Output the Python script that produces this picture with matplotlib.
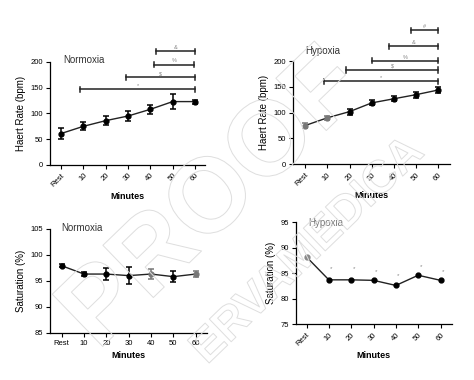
import numpy as np
import matplotlib
matplotlib.use('Agg')
import matplotlib.pyplot as plt
from matplotlib import patheffects

plt.rcParams['font.family'] = ['Liberation Sans', 'DejaVu Sans']

# ---- data ----
minutes = ['Rest', '10', '20', '30', '40', '50', '60']

hr_norm = [61, 75, 86, 95, 108, 123, 123]
hr_norm_err = [11, 8, 9, 10, 9, 15, 4]
hr_norm_col = ['k', 'k', 'k', 'k', 'k', 'k', 'k']

hr_hyp = [75, 90, 102, 119, 127, 135, 144]
hr_hyp_err = [5, 4, 6, 5, 5, 6, 5]
hr_hyp_col = ['#777777', '#777777', 'k', 'k', 'k', 'k', 'k']

sat_norm = [97.9, 96.3, 96.3, 96.0, 96.3, 95.8, 96.3]
sat_norm_err = [0.3, 0.4, 1.1, 1.6, 0.9, 1.1, 0.5]
sat_norm_col = ['k', 'k', 'k', 'k', '#777777', 'k', '#777777']

sat_hyp = [88.2, 83.7, 83.7, 83.6, 82.6, 84.6, 83.6]
sat_hyp_col = ['#888888', 'k', 'k', 'k', 'k', 'k', 'k']
sat_hyp_star = [None, 86.0, 86.0, 85.3, 84.5, 86.4, 85.4]

# significance brackets (start index, end index, height, symbol)
norm_br_start = [0.85, 2.9, 4.15, 4.25]
norm_br_end = [6.0, 6.0, 5.95, 6.0]
norm_br_y = [147, 170, 195, 221]
norm_br_lab = ['*', '$', '%', '&']

hyp_br_start = [0.85, 1.85, 3.0, 3.8, 4.75]
hyp_br_end = [6.0, 6.0, 6.0, 6.0, 6.0]
hyp_br_y = [161, 183, 201, 229, 260]
hyp_br_lab = ['*', '$', '%', '&', '#']

x = np.arange(len(minutes))

fig = plt.figure(figsize=(4.74, 3.8), dpi=100)

# faint watermark
wm = dict(color='none', fontweight='bold', ha='center', va='center',
          rotation=44, zorder=0,
          path_effects=[patheffects.withStroke(linewidth=0.7, foreground='#dedede')])
fig.text(0.45, 0.47, 'PROOF', fontsize=76, **wm)
fig.text(0.65, 0.34, 'ERVAMEDICA', fontsize=33, **wm)


def style_axes(ax, ylim, yticks, xlim, rotate=True):
    ax.set_facecolor('none')
    for s in ['top', 'right']:
        ax.spines[s].set_visible(False)
    for s in ['left', 'bottom']:
        ax.spines[s].set_linewidth(0.9)
    ax.set_ylim(*ylim)
    ax.set_yticks(yticks)
    ax.set_xlim(*xlim)
    ax.set_xticks(x)
    if rotate:
        ax.set_xticklabels(minutes, rotation=45, ha='right', rotation_mode='anchor')
    else:
        ax.set_xticklabels(minutes)
    ax.tick_params(length=3, width=0.8, labelsize=5.5, pad=2)
    ax.set_xlabel('Minutes', fontsize=6.5, fontweight='bold', labelpad=3)


def draw_series(ax, vals, errs, cols):
    ax.plot(x, vals, color='#222222', lw=1.0, zorder=2)
    for i in range(len(vals)):
        if errs is not None:
            ax.errorbar(x[i], vals[i], yerr=errs[i], color=cols[i], capsize=2.5,
                        elinewidth=1.1, capthick=1.1, zorder=3)
        ax.plot(x[i], vals[i], 'o', color=cols[i], ms=3.5, zorder=4)


def draw_brackets(ax, starts, ends, ys, labs, capheight):
    for s, e, y, lab in zip(starts, ends, ys, labs):
        ax.plot([s, e], [y, y], color='#222222', lw=1.1, clip_on=False)
        ax.plot([s, s], [y - capheight, y + capheight], color='#222222', lw=1.1, clip_on=False)
        ax.plot([e, e], [y - capheight, y + capheight], color='#222222', lw=1.1, clip_on=False)
        ax.text((s + e) / 2, y + 7, lab, fontsize=4, color='#888888',
                ha='center', va='center', clip_on=False)


# heart rate, normoxia
ax1 = fig.add_axes([0.1055, 0.566, 0.327, 0.271])
draw_series(ax1, hr_norm, hr_norm_err, hr_norm_col)
draw_brackets(ax1, norm_br_start, norm_br_end, norm_br_y, norm_br_lab, 5)
style_axes(ax1, (0, 200), [0, 50, 100, 150, 200], (-0.5, 6.45))
ax1.set_ylabel('Haert Rate (bpm)', fontsize=7, labelpad=3)
ax1.text(0.1, 203, 'Normoxia', fontsize=7, color='#333333', va='center', clip_on=False)

# heart rate, hypoxia
ax2 = fig.add_axes([0.618, 0.568, 0.331, 0.271])
draw_series(ax2, hr_hyp, hr_hyp_err, hr_hyp_col)
draw_brackets(ax2, hyp_br_start, hyp_br_end, hyp_br_y, hyp_br_lab, 5)
style_axes(ax2, (0, 200), [0, 50, 100, 150, 200], (-0.55, 6.52))
ax2.set_ylabel('Haert Rate (bpm)', fontsize=7, labelpad=3)
ax2.text(0.0, 219, 'Hypoxia', fontsize=7, color='#333333', va='center', clip_on=False)

# saturation, normoxia
ax3 = fig.add_axes([0.1055, 0.124, 0.331, 0.274])
draw_series(ax3, sat_norm, sat_norm_err, sat_norm_col)
style_axes(ax3, (85, 105), [85, 90, 95, 100, 105], (-0.52, 6.5), rotate=False)
ax3.set_ylabel('Saturation (%)', fontsize=7, labelpad=3)
ax3.text(0.0, 105.1, 'Normoxia', fontsize=7, color='#333333', va='center', clip_on=False)

# saturation, hypoxia
ax4 = fig.add_axes([0.624, 0.147, 0.329, 0.268])
draw_series(ax4, sat_hyp, None, sat_hyp_col)
for i, s in enumerate(sat_hyp_star):
    if s is not None:
        ax4.text(x[i] + 0.12, s, '*', fontsize=4.5, color='#888888', ha='center', va='center')
style_axes(ax4, (75, 95), [75, 80, 85, 90, 95], (-0.48, 6.5))
ax4.set_ylabel('Saturation (%)', fontsize=7, labelpad=3)
ax4.text(0.1, 94.9, 'Hypoxia', fontsize=7, color='#777777', va='center', clip_on=False)

fig.savefig('out.png', dpi=100)
